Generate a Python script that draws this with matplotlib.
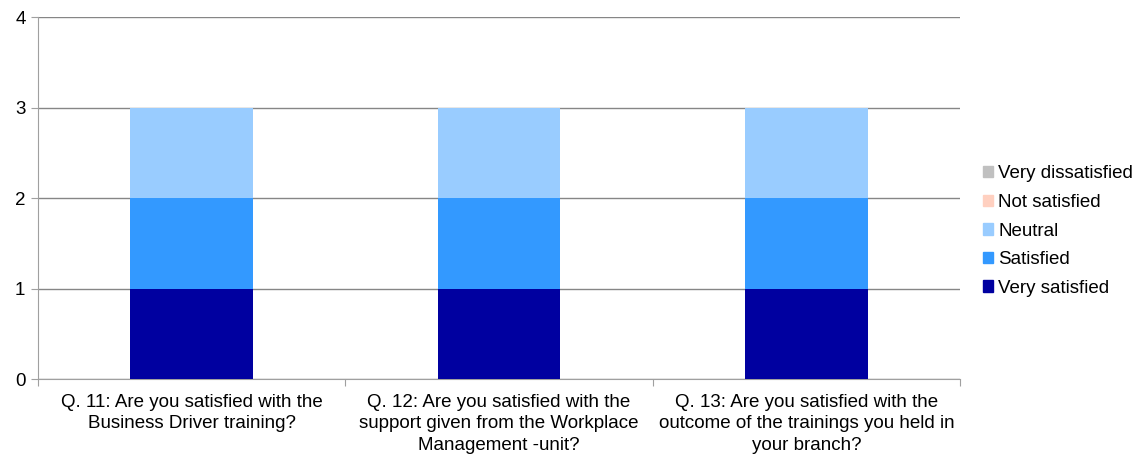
from matplotlib import pyplot as plt
from matplotlib.patches import Patch
import numpy as np

plt.rcParams['font.family'] = ['Liberation Sans', 'DejaVu Sans']

# data
questions = [
    'Q. 11: Are you satisfied with the\nBusiness Driver training?',
    'Q. 12: Are you satisfied with the\nsupport given from the Workplace\nManagement -unit?',
    'Q. 13: Are you satisfied with the\noutcome of the trainings you held in\nyour branch?',
]
series_names = ['Very satisfied', 'Satisfied', 'Neutral', 'Not satisfied', 'Very dissatisfied']
very_satisfied = [1, 1, 1]
satisfied = [1, 1, 1]
neutral = [1, 1, 1]
not_satisfied = [0, 0, 0]
very_dissatisfied = [0, 0, 0]
colors = ['#0000A0', '#3399FF', '#99CCFF', '#FFD0C0', '#C0C0C0']

series = [very_satisfied, satisfied, neutral, not_satisfied, very_dissatisfied]

fig = plt.figure(figsize=(11.41, 4.55), dpi=100)
ax = fig.add_axes([38 / 1141, 1 - 379 / 455, (960 - 38) / 1141, (379 - 17) / 455])

x = np.arange(len(questions))
bottom = np.zeros(len(questions))
for vals, col in zip(series, colors):
    ax.bar(x, vals, width=0.4, bottom=bottom, color=col, zorder=3)
    bottom += np.array(vals)

ax.set_xlim(-0.5, len(questions) - 0.5)
ax.set_ylim(0, 4)
ax.set_yticks([0, 1, 2, 3, 4])
ax.yaxis.grid(True, color='#868686', linewidth=1, zorder=0)

# category labels between boundary ticks
ax.set_xticks(np.arange(-0.5, len(questions)), minor=False)
ax.set_xticklabels([])
ax.set_xticks(x, minor=True)
ax.set_xticklabels(questions, minor=True, fontsize=13.5, linespacing=1.32)
ax.tick_params(axis='x', which='minor', length=0, pad=11)
ax.tick_params(axis='x', which='major', length=5, color='#a0a0a0')
ax.tick_params(axis='y', length=5, color='#a0a0a0', labelsize=13.5, pad=4)

for s in ['top', 'right']:
    ax.spines[s].set_visible(False)
ax.spines['left'].set_color('#a0a0a0')
ax.spines['bottom'].set_color('#a0a0a0')

handles = [Patch(color=c, label=n) for c, n in zip(colors, series_names)][::-1]
fig.legend(handles=handles, loc='center left', bbox_to_anchor=(983 / 1141, 1 - 231 / 455),
           frameon=False, fontsize=13.5, handlelength=0.55, handleheight=0.55,
           handletextpad=0.25, labelspacing=0.62, borderpad=0, borderaxespad=0)

fig.savefig('out.png', dpi=100)
